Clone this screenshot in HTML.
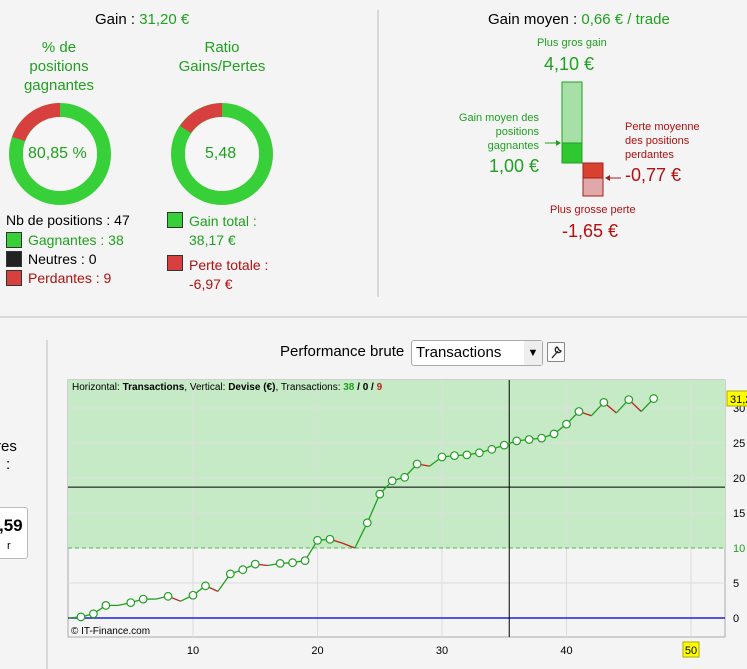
<!DOCTYPE html>
<html><head><meta charset="utf-8">
<style>
body{margin:0;width:747px;height:669px;background:#f4f4f4;font-family:"Liberation Sans",sans-serif;position:relative;overflow:hidden}
.a{position:absolute;white-space:nowrap}
.g{color:#20a020}.r{color:#b01010}
.sq{position:absolute;width:14px;height:14px;border:1px solid #333}
</style></head><body>
<div class="a" style="left:95px;top:11px;font-size:15px">Gain : <span class="g">31,20 €</span></div>
<div class="a g" style="left:0;width:118px;top:38px;font-size:15px;text-align:center;line-height:19px">% de<br>positions<br>gagnantes</div>
<div class="a g" style="left:160px;width:124px;top:38px;font-size:15px;text-align:center;line-height:19px">Ratio<br>Gains/Pertes</div>
<svg class="a" style="left:0;top:0" width="747" height="669">
<circle cx="60" cy="154" r="44" fill="none" stroke="#38d038" stroke-width="14"/>
<path d="M60 103 A51 51 0 0 0 12 137 L25 141 A37 37 0 0 1 60 117 Z" fill="#d84040"/>
<circle cx="60" cy="154" r="37" fill="#f6f6f6"/>
<circle cx="222" cy="154" r="44" fill="none" stroke="#38d038" stroke-width="14"/>
<path d="M222 103 A51 51 0 0 0 180 126 L191 133 A37 37 0 0 1 222 117 Z" fill="#d84040"/>
<circle cx="222" cy="154" r="37" fill="#f6f6f6"/>
<line x1="378" y1="10" x2="378" y2="297" stroke="#bbb"/>
<line x1="0" y1="317" x2="747" y2="317" stroke="#bbb"/>
<line x1="47" y1="340" x2="47" y2="669" stroke="#bbb"/>
<rect x="562" y="82" width="20" height="81" fill="#a6e0a6" stroke="#20a020"/>
<rect x="562" y="143" width="20" height="20" fill="#30c830" stroke="#20a020"/>
<rect x="583" y="163" width="20" height="33" fill="#e0a8a8" stroke="#a02020"/>
<rect x="583" y="163" width="20" height="15" fill="#d84030" stroke="#a02020"/>
<line x1="545" y1="143" x2="560" y2="143" stroke="#20a020"/><path d="M561 143 l-5 -3 v6z" fill="#20a020"/>
<line x1="606" y1="178" x2="621" y2="178" stroke="#a02020"/><path d="M605 178 l5 -3 v6z" fill="#a02020"/>
</svg>
<div class="a g" style="left:28px;top:145px;font-size:16px">80,85 %</div>
<div class="a g" style="left:205px;top:145px;font-size:16px">5,48</div>
<div class="a" style="left:6px;top:212px;font-size:14px">Nb de positions : 47</div>
<div class="sq" style="left:6px;top:232px;background:#38d038"></div><div class="a g" style="left:28px;top:232px;font-size:14px">Gagnantes : 38</div>
<div class="sq" style="left:6px;top:251px;background:#222"></div><div class="a" style="left:28px;top:251px;font-size:14px">Neutres : 0</div>
<div class="sq" style="left:6px;top:270px;background:#d84040"></div><div class="a r" style="left:28px;top:270px;font-size:14px">Perdantes : 9</div>
<div class="sq" style="left:167px;top:212px;background:#38d038"></div><div class="a g" style="left:189px;top:212px;font-size:14px;line-height:19px">Gain total :<br>38,17 €</div>
<div class="sq" style="left:167px;top:255px;background:#d84040"></div><div class="a r" style="left:189px;top:256px;font-size:14px;line-height:19px">Perte totale :<br>-6,97 €</div>
<div class="a" style="left:488px;top:11px;font-size:15px">Gain moyen : <span class="g">0,66 € / trade</span></div>
<div class="a g" style="left:537px;top:37px;font-size:11px">Plus gros gain</div>
<div class="a g" style="left:544px;top:54px;font-size:18px">4,10 €</div>
<div class="a g" style="left:450px;top:111px;width:89px;font-size:11px;text-align:right;line-height:14px">Gain moyen des<br>positions<br>gagnantes</div>
<div class="a g" style="left:489px;top:156px;font-size:18px">1,00 €</div>
<div class="a r" style="left:625px;top:120px;font-size:11px;line-height:14px">Perte moyenne<br>des positions<br>perdantes</div>
<div class="a r" style="left:625px;top:165px;font-size:18px">-0,77 €</div>
<div class="a r" style="left:550px;top:204px;font-size:11px">Plus grosse perte</div>
<div class="a r" style="left:562px;top:221px;font-size:18px">-1,65 €</div>
<div class="a" style="left:-4px;top:437px;font-size:15px;line-height:19px">res</div>
<div class="a" style="left:6px;top:456px;font-size:15px">:</div>
<div class="a" style="left:-6px;top:507px;width:32px;height:50px;background:#fff;border:1px solid #bbb;border-radius:3px;font-size:17px"><div style="position:absolute;left:4px;top:8px;font-weight:bold">,59</div><div style="position:absolute;left:12px;top:32px;font-size:11px">r</div></div>
<div class="a" style="left:280px;top:343px;font-size:15px">Performance brute</div>
<div class="a" style="left:411px;top:340px;width:130px;height:24px;background:#fff;border:1px solid #aaa;border-radius:3px;font-size:15px"><span style="position:absolute;left:4px;top:3px">Transactions</span><span style="position:absolute;right:0;top:0;width:18px;height:24px;background:#eee;font-size:11px;text-align:center;line-height:24px">▼</span></div>
<div class="a" style="left:547px;top:342px;width:16px;height:18px;border:1px solid #888;border-radius:2px;background:#fafafa"><svg width="16" height="18"><path d="M4 15 L10 8 M9 4 a3 3 0 1 0 4 4 l-2 -1 l-1 -2z" stroke="#222" fill="none" stroke-width="1.3"/></svg></div>
<svg class="a" style="left:0;top:0" width="747" height="669" id="chart"></svg>
<script>
const xTicks=[10,20,30,40,50];
const yTicks=[0,5,10,15,20,25,30];
const equity=[0,0.15,0.6,1.8,1.8,2.2,2.7,2.7,3.1,2.4,3.25,4.6,3.8,6.3,6.9,7.7,7.5,7.8,7.9,8.2,11.1,11.25,10.7,10.0,13.6,17.7,19.6,20.1,22.0,21.7,23.0,23.2,23.3,23.6,24.1,24.7,25.3,25.5,25.7,26.3,27.7,29.5,28.9,30.8,29.3,31.2,29.5,31.35];
const threshold=[10];
const crossX=[35.4],crossY=[18.7];
const L=68,R=725,T=380,B=637;
const X=v=>68.5+v*12.45, Y=v=>618-v*7;
const s=document.getElementById('chart');
const NS='http://www.w3.org/2000/svg';
function mk(t,a){const e=document.createElementNS(NS,t);for(const k in a)e.setAttribute(k,a[k]);s.appendChild(e);return e;}
let e;
e=mk('rect',{x:L,y:T,width:R-L,height:B-T,fill:'#f4f4f4',stroke:'#aaa'});


e=mk('rect',{x:L,y:T,width:R-L,height:Y(threshold[0])-T,fill:'#c6eac6'});


yTicks.forEach(v=>{mk('line',{x1:L,x2:R,y1:Y(v),y2:Y(v),stroke:'#ddd'});
 e=mk('text',{x:733,y:Y(v)+4,'font-size':11,'font-family':'Liberation Sans',fill:v==10?'#20a020':'#000'});e.textContent=v;
 
 });
xTicks.forEach(v=>{mk('line',{x1:X(v),x2:X(v),y1:T,y2:B,stroke:'#ddd'});
 if(v==50)mk('rect',{x:X(v)-8,y:642,width:16,height:15,fill:'#ffff00',stroke:'#aa0'});
 e=mk('text',{x:X(v),y:654,'font-size':11,'font-family':'Liberation Sans','text-anchor':'middle'});e.textContent=v;
 
 });
mk('line',{x1:L,x2:R,y1:Y(threshold[0]),y2:Y(threshold[0]),stroke:'#40c040','stroke-dasharray':'4,3'});
mk('line',{x1:L,x2:R,y1:Y(0),y2:Y(0),stroke:'#2020e0','stroke-width':1.5});
mk('line',{x1:X(crossX[0]),x2:X(crossX[0]),y1:T,y2:B,stroke:'#000'});
mk('line',{x1:L,x2:R,y1:Y(crossY[0]),y2:Y(crossY[0]),stroke:'#000'});
for(let i=1;i<equity.length;i++){
 e=mk('line',{x1:X(i-1),y1:Y(equity[i-1]),x2:X(i),y2:Y(equity[i]),stroke:equity[i]>=equity[i-1]?'#20a020':'#c02020','stroke-width':1.3});
 
 
}
for(let i=1;i<equity.length;i++){ if(equity[i]>equity[i-1]){
 e=mk('circle',{cx:X(i),cy:Y(equity[i]),r:3.8,fill:'#fff',stroke:'#20a020','stroke-width':1.2});
 
 }}
mk('rect',{x:727,y:391,width:22,height:15,fill:'#ffff00',stroke:'#aa0'});
e=mk('text',{x:730,y:403,'font-size':11,'font-family':'Liberation Sans'});e.textContent='31,20';


e=mk('text',{x:72,y:390,'font-size':10,'font-family':'Liberation Sans'});
e.innerHTML='Horizontal: <tspan font-weight="bold">Transactions</tspan>, Vertical: <tspan font-weight="bold">Devise (€)</tspan>, Transactions: <tspan fill="#20a020" font-weight="bold">38</tspan><tspan font-weight="bold"> / 0 / </tspan><tspan fill="#c02020" font-weight="bold">9</tspan>';


e=mk('text',{x:71,y:634,'font-size':10,'font-family':'Liberation Sans'});e.textContent='© IT-Finance.com';


</script>
</body></html>
